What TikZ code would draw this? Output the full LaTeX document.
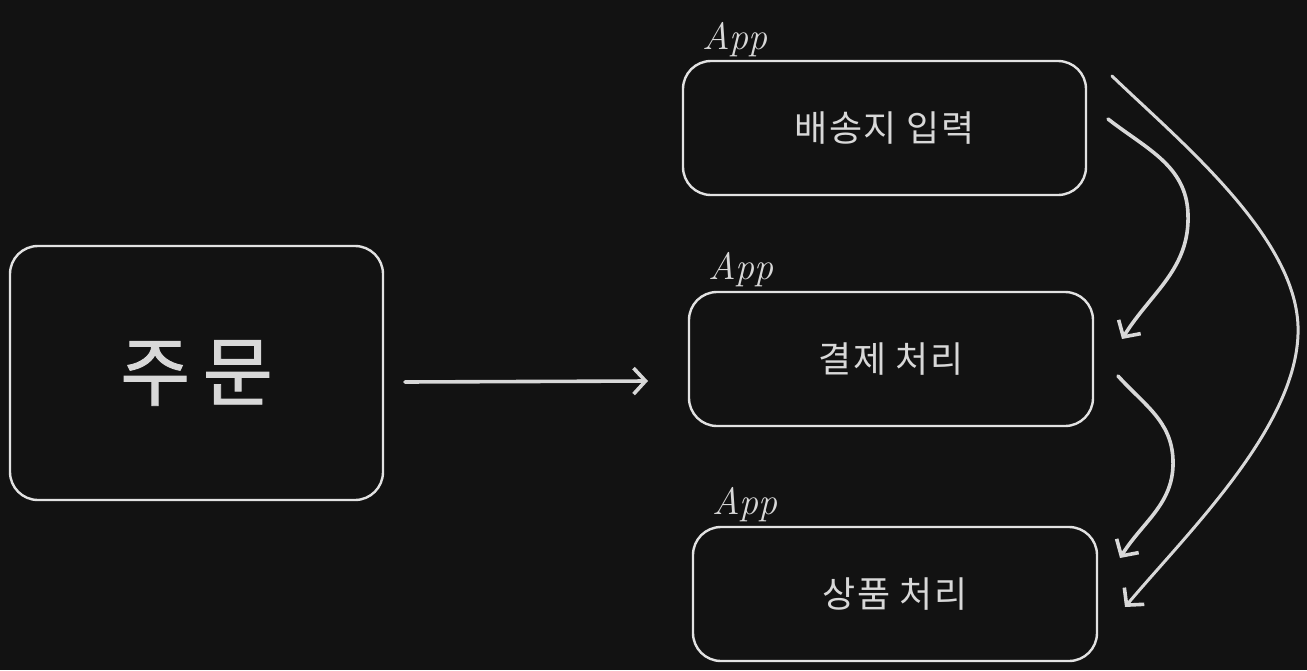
\documentclass[tikz,border=0pt]{standalone}
\usepackage{fontspec}
\newfontfamily\kr[LetterSpace=4]{Noto Sans CJK KR}
\newfontfamily\krb[FakeBold=1.2]{Noto Sans CJK KR}
\usetikzlibrary{arrows.meta}
\definecolor{bg}{HTML}{121212}
\definecolor{ink}{HTML}{D8D8D8}
\definecolor{boxink}{HTML}{E2E2E2}
\begin{document}
\begin{tikzpicture}[x=1pt,y=-1pt,
  box/.style={draw=boxink,line width=2.4pt,rounded corners=28pt,inner sep=0pt,text=ink,font=\kr\fontsize{36}{44}\selectfont},
  applbl/.style={text=ink,font=\itshape\fontsize{38}{42}\selectfont,inner sep=0pt},
  arr/.style={draw=ink,line width=3.6pt,line cap=round,-{Straight Barb[length=12pt,width=26pt,line width=3.6pt]}}]
\fill[bg] (0,0) rectangle (1307,670);
\useasboundingbox (0,0) rectangle (1307,670);
% boxes
\node[box,minimum width=373pt,minimum height=254pt,font=\krb\fontsize{76}{84}\selectfont] (ju) at (196.5,373) {주\,문};
\node[box,minimum width=403pt,minimum height=134pt] (b1) at (884.5,128) {배송지 입력};
\node[box,minimum width=404pt,minimum height=134pt] (b2) at (891,359) {결제 처리};
\node[box,minimum width=404pt,minimum height=134pt] (b3) at (895,594) {상품 처리};
% App labels
\node[applbl] (l1) at (735,40) {App};
\node[applbl] (l2) at (741,270) {App};
\node[applbl] (l3) at (745,505) {App};
% connector end points
\coordinate (m0) at (405,382);
\coordinate (m1) at (648,381);
\coordinate (a1s) at (1108,119);
\coordinate (a1m) at (1188,214);
\coordinate (a1e) at (1122,339);
\coordinate (a2s) at (1118,376);
\coordinate (a2m) at (1173,460);
\coordinate (a2e) at (1120,558);
\coordinate (a3s) at (1112,76);
\coordinate (a3m) at (1298,326);
\coordinate (a3e) at (1125,607);
% arrows
\draw[arr] (m0) -- (m1);
\draw[arr] (a1s) to[out=-38,in=92] (a1m) to[out=-88,in=58] (a1e);
\draw[arr] (a2s) to[out=-48,in=92] (a2m) to[out=-88,in=58] (a2e);
\draw[arr,line width=3pt] (a3s) to[out=-44,in=92,looseness=0.75] (a3m) to[out=-88,in=50,looseness=0.75] (a3e);
\end{tikzpicture}
\end{document}
